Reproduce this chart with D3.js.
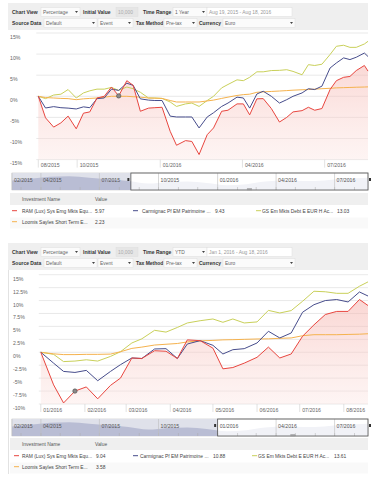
<!DOCTYPE html>
<html><head><meta charset="utf-8">
<script src="https://cdn.jsdelivr.net/npm/d3@7"></script>
<style>
html,body{margin:0;padding:0;background:#fff;}
svg{display:block;font-family:"Liberation Sans",Arial,sans-serif;}
</style></head><body><svg id="c" width="376" height="484"></svg>
<script>
// ---------------- DATA ----------------
const seriesNames = ["RAM (Lux) Sys Emg Mkts Equ...", "Carmignac Pf EM Patrimoine ...", "GS Em Mkts Debt E EUR H Ac...", "Loomis Sayles Short Term E..."];
const seriesColors = ["#e8463f", "#474d8c", "#c9d05a", "#f5b24e"];

// Top chart: 1 Year (Aug 19, 2015 - Aug 18, 2016), values in %
const topStart = "2015-08-19";
const topDays = [0,8,17,25,33,42,50,57,65,73,81,89,98,105,113,122,129,137,146,153,163,170,178,187,194,203,210,220,227,234,242,249,258,267,275,282,292,299,306,314,323,330,338,345,352,361,365];
const topRAM = [0,-5.1,-7.3,-6.3,-4.7,-7.7,-4.0,-3.7,-0.4,0,2.2,0.1,3.7,2.6,-3.55,-2.8,-2.7,-2.6,-8.3,-11.6,-10.5,-10.7,-13.8,-9.1,-7.5,-3.55,-3.3,-1.8,-1.8,-4.4,-0.6,-0.55,-2.9,-6.1,-5.0,-3.7,-3.4,-2.6,-3.3,-2.9,1.6,3.7,4.5,4.7,6.1,7.3,5.97];
const topCarm = [0,-2.77,-2.45,-2.7,-2.8,-3.0,-2.5,-2.7,-0.55,-0.4,1.7,1.4,3.1,2.6,-0.6,-0.9,-1.0,-1.0,-4.7,-4.9,-4.9,-4.9,-7.5,-4.9,-3.9,-2.4,-1.6,-0.2,-0.4,-2.8,0.55,1.2,0,-1.6,-0.8,0,0.8,1.8,1.6,2.4,6.7,7.9,9.1,8.7,9.25,10.25,9.43];
const topGS = [0,-0.55,0.3,0.5,1.6,-0.4,0.8,1.3,1.7,1.7,2.1,1.4,2.2,1.8,0.95,-0.4,-0.4,-0.5,-1.35,-2.4,-1.8,-1.6,-2.4,-1.0,0,2.0,2.8,3.9,3.7,4.5,5.8,5.8,6.1,6.15,6.3,5.9,5.1,7.5,7.3,7.6,9.9,11.85,12.1,11.6,11.6,12.4,13.03];
const topLoomis = [0,-0.3,-0.4,-0.5,-0.55,-0.8,-0.6,-0.5,-0.4,-0.2,0,0,0,-0.1,-0.2,-0.4,-0.45,-0.5,-1.0,-1.35,-1.35,-1.35,-1.35,-1.1,-0.9,-0.5,-0.2,0.2,0.4,0.5,0.95,1.05,1.15,1.25,1.35,1.45,1.55,1.6,1.7,1.8,1.9,2.0,2.05,2.1,2.15,2.2,2.23];
const topYTicks = [15,10,5,0,-5,-10,-15];
const topXTicks = ["2015-08-19","2015-10-01","2016-01-01","2016-04-01","2016-07-01"];
const topMarkerIndex = 11;

// Bottom chart: YTD (Jan 1, 2016 - Aug 18, 2016), values in %
const botStart = "2016-01-01";
const botDays = [0,9,16,24,32,40,49,56,64,71,80,88,96,103,112,121,128,135,143,152,160,168,176,184,192,200,208,216,224,230];
const botRAM = [0,-6.3,-9.8,-7.5,-6.7,-9.0,-6.4,-5.0,-1.1,-1.2,0.3,0.2,-1.2,2.4,2.25,0.8,-3.2,-2.95,-2.1,-0.97,1.0,-1.1,-0.33,3.1,5.3,7.3,7.9,7.9,10.2,9.04];
const botCarm = [0,-2.1,-3.7,-3.9,-3.5,-5.5,-3.7,-2.4,-1.1,-1.2,0.64,0.7,-1.2,1.6,2.25,1.35,-0.33,0.5,0.7,1.8,4.06,2.77,3.73,7.74,9.2,10.0,10.2,9.73,11.66,10.88];
const botGS = [0,-0.4,-1.8,-1.7,-1.45,-1.7,-0.8,0.1,1.8,2.6,4.25,3.9,4.8,5.67,6.1,6.44,5.8,6.44,5.67,5.87,8.1,7.6,8.06,9.86,11.8,11.7,11.4,11.4,12.77,13.61];
const botLoomis = [0,-0.3,-0.45,-0.45,-0.4,-0.4,-0.35,0.1,0.75,1.0,1.4,1.55,1.7,2.0,2.2,2.3,2.4,2.44,2.5,2.57,2.6,2.7,2.77,3.2,3.4,3.4,3.4,3.45,3.5,3.58];
const botYTicks = [15,12.5,10,7.5,5,2.5,0,-2.5,-5,-7.5,-10];
const botXTicks = ["2016-01-01","2016-02-01","2016-03-01","2016-04-01","2016-05-01","2016-06-01","2016-07-01","2016-08-01"];
const botMarkerIndex = 3;

// Navigator (overview) series
const navDates = ["2015-02-15","2015-03-15","2015-04-15","2015-05-15","2015-06-15","2015-07-15","2015-08-15","2015-09-15","2015-10-15","2015-11-15","2015-12-15","2016-01-15","2016-02-15","2016-03-15","2016-04-15","2016-05-15","2016-06-15","2016-07-15","2016-08-22"];
const navVals = [3,6,10,11,8,5,2,-3,0,1,-2,-6,-4,1,3,2,3,6,8];
const navTicks = ["2015-02-15","2015-04-01","2015-07-01","2015-10-01","2016-01-01","2016-04-01","2016-07-01"];

const topToolbar = ["Percentage","10,000","1 Year","Aug 19, 2015 - Aug 18, 2016","Default","Event","Pre-tax","Euro"];
const botToolbar = ["Percentage","10,000","YTD","Jan 1, 2016 - Aug 18, 2016","Default","Event","Pre-tax","Euro"];

// ---------------- DRAW ----------------
const parse = d3.timeParse("%Y-%m-%d");
const fmtM = d3.timeFormat("%m/%Y");
const svg = d3.select("#c");
svg.append("rect").attr("width",376).attr("height",484).attr("fill","#fff");
const defs = svg.append("defs");
const FS = 4.9, AFS = 5.2;

function txt(g, s, x, y, opt={}) {
  return g.append("text").attr("x",x).attr("y",y).text(s)
    .attr("font-size", opt.fs || FS).attr("fill", opt.fill || "#444")
    .attr("font-weight", opt.bold ? "bold" : null);
}

function toolbar(y0, vals) {
  const g = svg.append("g");
  g.append("rect").attr("x",8).attr("y",y0).attr("width",360).attr("height",27).attr("fill","#efefef");
  const r1 = y0+9, r2 = y0+20;
  function box(x, cy, w, s, arrow, bg, col) {
    g.append("rect").attr("x",x).attr("y",cy-4.5).attr("width",w).attr("height",9)
      .attr("fill", bg || "#fbfbfb").attr("stroke","#dedede").attr("stroke-width",0.5);
    txt(g, s, x+2, cy+1.8, {fill: col || "#666"});
    if (arrow) {
      const ax = x+w-5;
      g.append("path").attr("d",`M${ax},${cy-1} L${ax+3},${cy-1} L${ax+1.5},${cy+1}Z`).attr("fill","#444");
    }
  }
  const lab = (s,x,cy) => txt(g, s, x, cy+1.8, {bold:true, fill:"#333", fs:5.0});
  lab("Chart View",12,r1); box(41,r1,39,vals[0],true);
  lab("Initial Value",83,r1); box(116,r1,22,vals[1],false,"#e6e6e6","#aaa");
  lab("Time Range",143,r1); box(173,r1,34,vals[2],true);
  box(207,r1,85,vals[3],false,"#fff","#999");
  lab("Source Data",12,r2); box(44,r2,53,vals[4],true);
  box(98,r2,35,vals[5],true);
  lab("Tax Method",136,r2); box(164,r2,33,vals[6],true);
  lab("Currency",199,r2); box(223,r2,72,vals[7],true);
}

function chart(cfg) {
  const g = svg.append("g");
  const start = parse(cfg.start);
  const dates = cfg.days.map(d => d3.timeDay.offset(start, d));
  const x = d3.scaleTime().domain([start, dates[dates.length-1]]).range([cfg.left, 368]);
  const y = d3.scaleLinear().domain(cfg.yDomain).range([cfg.bottom, cfg.top]);
  g.selectAll(".gl").data(cfg.yTicks).join("line")
    .attr("x1",cfg.left-2).attr("x2",368).attr("y1",d=>y(d)).attr("y2",d=>y(d))
    .attr("stroke","#e3e3e3").attr("stroke-width",0.8);
  g.selectAll(".yl").data(cfg.yTicks).join("text")
    .attr("x",cfg.labelX).attr("y",d=>y(d)+cfg.labelDy).text(d=>d+"%")
    .attr("font-size",AFS).attr("fill","#666");
  const xt = cfg.xTicks.map(parse);
  g.selectAll(".xt").data(xt).join("line")
    .attr("x1",d=>x(d)).attr("x2",d=>x(d)).attr("y1",cfg.bottom).attr("y2",cfg.bottom+8)
    .attr("stroke","#d6d6d6").attr("stroke-width",0.7);
  g.selectAll(".xl").data(xt).join("text")
    .attr("x",d=>x(d)+2.5).attr("y",cfg.bottom+cfg.xLabelDy).text(d=>fmtM(d))
    .attr("font-size",AFS).attr("fill","#666");
  const gid = "grad"+cfg.id;
  const gr = defs.append("linearGradient").attr("id",gid).attr("gradientUnits","userSpaceOnUse")
    .attr("x1",0).attr("x2",0).attr("y1",cfg.top).attr("y2",cfg.bottom);
  gr.append("stop").attr("offset",0).attr("stop-color","#f4a39c").attr("stop-opacity",0.55);
  gr.append("stop").attr("offset",1).attr("stop-color","#fbe1de").attr("stop-opacity",0.35);
  const area = d3.area().x((d,i)=>x(dates[i])).y0(cfg.bottom).y1(d=>y(d));
  g.append("path").attr("d",area(cfg.series[0])).attr("fill",`url(#${gid})`);
  const line = d3.line().x((d,i)=>x(dates[i])).y(d=>y(d));
  [2,3,1,0].forEach(k=>{
    g.append("path").attr("d",line(cfg.series[k])).attr("fill","none")
      .attr("stroke",seriesColors[k]).attr("stroke-width",1).attr("stroke-linejoin","round");
  });
  const mi = cfg.marker;
  g.append("circle").attr("cx",x(dates[mi])).attr("cy",y(cfg.series[0][mi])).attr("r",2.2)
    .attr("fill","#8a8a8a").attr("stroke","#4a4a4a").attr("stroke-width",0.6);
}

function navigator(y0, selStartStr, id) {
  const g = svg.append("g");
  const nd = navDates.map(parse);
  const nx = d3.scaleTime().domain([nd[0], nd[nd.length-1]]).range([12,368]);
  const h = 17;
  const ny = d3.scaleLinear().domain([-15,15]).range([y0+h, y0+1]);
  const sx = nx(parse(selStartStr));
  g.append("rect").attr("x",12).attr("y",y0).attr("width",356).attr("height",h).attr("fill","#fff").attr("stroke","#c8c8c8").attr("stroke-width",0.6);
  g.append("rect").attr("x",12).attr("y",y0).attr("width",sx-12).attr("height",h).attr("fill","#dfe1ea");
  const cL = "navL"+id, cR = "navR"+id;
  defs.append("clipPath").attr("id",cL).append("rect").attr("x",12).attr("y",y0).attr("width",sx-12).attr("height",h);
  defs.append("clipPath").attr("id",cR).append("rect").attr("x",sx).attr("y",y0).attr("width",368-sx).attr("height",h);
  const ar = d3.area().curve(d3.curveMonotoneX).x((d,i)=>nx(nd[i])).y0(y0+h).y1(d=>ny(d));
  g.append("path").attr("d",ar(navVals)).attr("fill","#b9bdd4").attr("clip-path",`url(#${cL})`);
  g.append("path").attr("d",ar(navVals)).attr("fill","#f1f2f7").attr("clip-path",`url(#${cR})`);
  const months = d3.timeMonth.range(nd[0], nd[nd.length-1]);
  g.selectAll(".mt").data(months).join("line")
    .attr("x1",d=>nx(d)).attr("x2",d=>nx(d)).attr("y1",y0+h-3).attr("y2",y0+h)
    .attr("stroke","#aaa").attr("stroke-width",0.5);
  const tk = navTicks.map(parse);
  g.selectAll(".nt").data(tk).join("line")
    .attr("x1",d=>nx(d)).attr("x2",d=>nx(d)).attr("y1",y0).attr("y2",y0+h)
    .attr("stroke","#bdbdbd").attr("stroke-width",0.6);
  g.selectAll(".nl").data(tk).join("text")
    .attr("x",d=>nx(d)+2).attr("y",y0+9).text(d=>fmtM(d))
    .attr("font-size",AFS).attr("fill","#555");
  g.append("rect").attr("x",sx).attr("y",y0).attr("width",368-sx).attr("height",h)
    .attr("fill","none").attr("stroke","#555").attr("stroke-width",0.8);
  g.append("rect").attr("x",sx-3.5).attr("y",y0+5).attr("width",2).attr("height",3).attr("fill","#333");
  g.append("rect").attr("x",369).attr("y",y0+5).attr("width",2).attr("height",3).attr("fill","#333");
  const cx = (sx+368)/2;
  [0,1.2].forEach(o=>g.append("line").attr("x1",cx-2.5).attr("x2",cx+2.5).attr("y1",y0+h-1.5+o).attr("y2",y0+h-1.5+o).attr("stroke","#777").attr("stroke-width",0.5));
}

function legend(y0, series, cols) {
  const g = svg.append("g");
  g.append("rect").attr("x",10).attr("y",y0).attr("width",358).attr("height",12).attr("fill","#efefef");
  g.append("rect").attr("x",10).attr("y",y0+24.5).attr("width",358).attr("height",11).attr("fill","#f9f9f9");
  txt(g,"Investment Name",22,y0+8,{fill:"#555"});
  txt(g,"Value",95,y0+8,{fill:"#555"});
  const f = d3.format(".2f");
  series.forEach((s,i)=>{
    const c = i<3 ? cols[i] : cols[0];
    const yy = i<3 ? y0+19.5 : y0+30.5;
    g.append("line").attr("x1",c[0]).attr("x2",c[0]+5).attr("y1",yy-1.8).attr("y2",yy-1.8)
      .attr("stroke",seriesColors[i]).attr("stroke-width",1);
    txt(g, seriesNames[i], c[1], yy, {fill:"#444"});
    txt(g, f(s[s.length-1]), c[2], yy, {fill:"#444"});
  });
}

// Top widget
toolbar(3, topToolbar);
chart({id:"t", start:topStart, days:topDays, series:[topRAM,topCarm,topGS,topLoomis],
  left:38.3, top:33.0, bottom:159.6, yDomain:[-15,15], yTicks:topYTicks, labelX:10, labelDy:5.5,
  xTicks:topXTicks, xLabelDy:7.5, marker:topMarkerIndex});
navigator(173, "2015-08-19", "t");
legend(193, [topRAM,topCarm,topGS,topLoomis], [[12,22,95],[133,142,215],[256,262,337]]);

// Bottom widget
svg.append("line").attr("x1",8.5).attr("x2",8.5).attr("y1",243).attr("y2",474).attr("stroke","#dadada").attr("stroke-width",0.8);
toolbar(243, botToolbar);
chart({id:"b", start:botStart, days:botDays, series:[botRAM,botCarm,botGS,botLoomis],
  left:40.8, top:274.7, bottom:404.0, yDomain:[-10,15], yTicks:botYTicks, labelX:13, labelDy:6,
  xTicks:botXTicks, xLabelDy:8, marker:botMarkerIndex});
navigator(419, "2016-01-01", "b");
legend(438, [botRAM,botCarm,botGS,botLoomis], [[14,22,96],[133,140,213],[252,258,334]]);
</script></body></html>
